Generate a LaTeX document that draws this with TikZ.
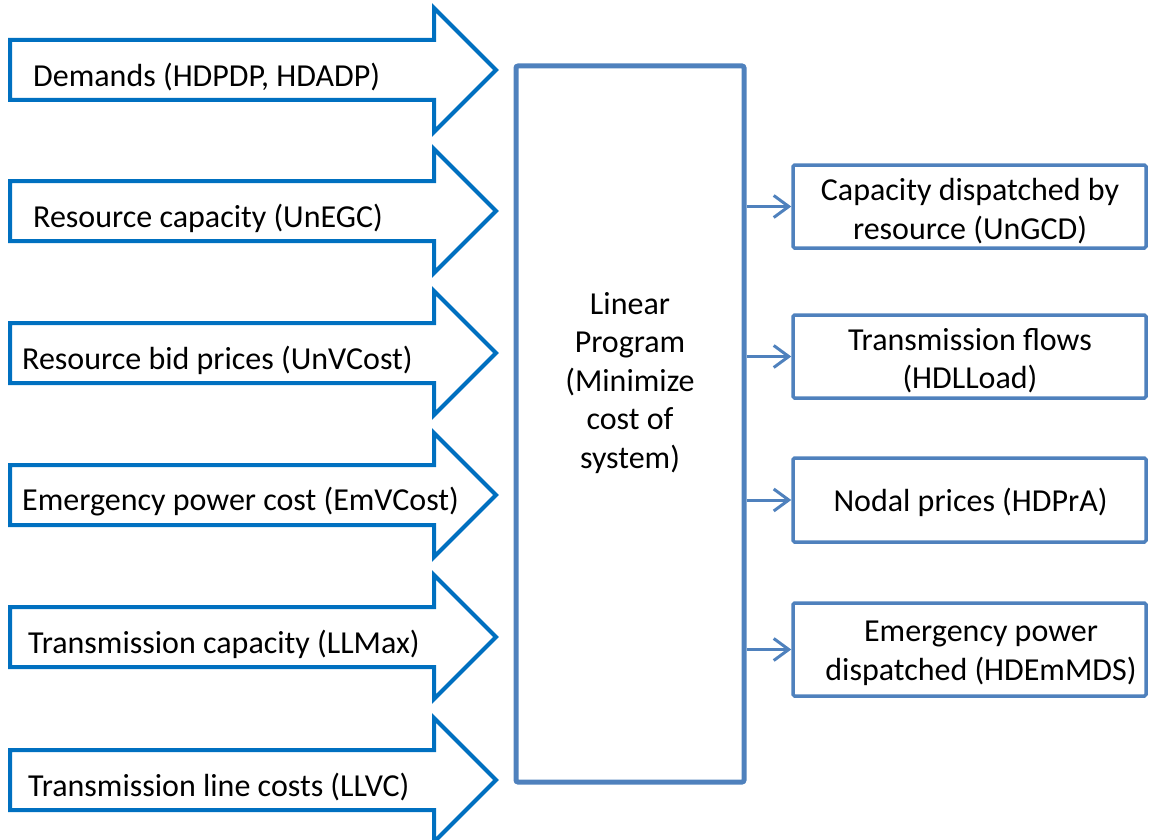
\documentclass[tikz,border=0pt]{standalone}
\usepackage{fontspec}
\setmainfont{Carlito}
\usetikzlibrary{arrows.meta}
\definecolor{arrowblue}{HTML}{0070C0}
\definecolor{boxblue}{HTML}{4F81BD}
\begin{document}
\begin{tikzpicture}[x=1pt,y=-1pt,
  fat/.style={draw=arrowblue, line width=4pt, fill=white, line join=miter},
  txt/.style={font=\fontsize{32}{38.5}\selectfont, inner sep=0pt, align=center, yshift=-2pt},
  outbox/.style={draw=boxblue, line width=3.5pt, rounded corners=1.5pt, minimum width=353pt},
  link/.style={draw=boxblue, line width=3pt, -{Straight Barb[length=15pt,width=22pt]}}]
\useasboundingbox (0,0) rectangle (1151,840);
% input arrows
\foreach \cy/\tx/\lab [count=\i] in {
  70/33/{Demands (HDPDP, HDADP)},
  211/33/{Resource capacity (UnEGC)},
  353/22/{Resource bid prices (UnVCost)},
  495/22/{Emergency power cost (EmVCost)},
  637/28/{Transmission capacity (LLMax)},
  780/28/{Transmission line costs (LLVC)}} {
  \draw[fat] (10,\cy-30) -- (434,\cy-30) -- (434,\cy-62) -- (496,\cy)
     -- (434,\cy+62) -- (434,\cy+30) -- (10,\cy+30) -- cycle;
  \node[txt, anchor=west] (in\i) at (\tx,\cy+5) {\lab};
}
% central box
\node[draw=boxblue, line width=5pt, rounded corners=2pt,
      minimum width=228pt, minimum height=716pt, inner sep=0pt] (lp) at (630,424) {};
\node[txt] (lptext) at (630,381) {Linear\\Program\\(Minimize\\cost of\\system)};
% output boxes
\node[outbox, minimum height=83pt] (out1) at (969.5,206.5) {};
\node[outbox, minimum height=83pt] (out2) at (969.5,356.5) {};
\node[outbox, minimum height=84pt] (out3) at (969.5,500) {};
\node[outbox, minimum height=93pt] (out4) at (969.5,649.5) {};
\node[txt] (t1) at (970,209) {Capacity dispatched by\\resource (UnGCD)};
\node[txt] (t2) at (970,358.5) {Transmission flows\\(HDLLoad)};
\node[txt] (t3) at (970.5,500) {Nodal prices (HDPrA)};
\node[txt] (t4) at (981,651.5) {Emergency power\\dispatched (HDEmMDS)};
% links
\foreach \k in {1,2,3,4} {
  \draw[link] (lp.east |- out\k.west) -- (out\k.west);
}
\end{tikzpicture}
\end{document}
